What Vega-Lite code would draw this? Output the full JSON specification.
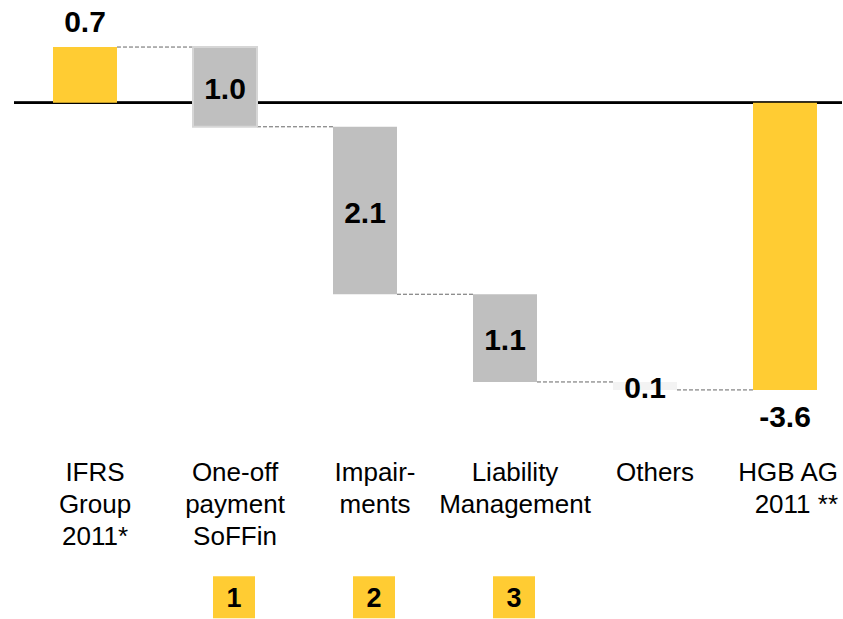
{
  "$schema": "https://vega.github.io/schema/vega-lite/v6.json",
  "width": 843,
  "height": 619,
  "autosize": {"type": "fit", "contains": "padding"},
  "padding": {"left": 13, "top": 0, "right": 0, "bottom": 0},
  "background": "white",
  "config": {
    "view": {"stroke": null},
    "text": {"font": "Liberation Sans", "color": "black"}
  },
  "data": {
    "values": [
      {"step": "IFRS", "name": "IFRS\nGroup\n2011*", "kind": "total", "start": 0, "end": 0.7, "label": "0.7", "next": "One-off", "marker": null},
      {"step": "One-off", "name": "One-off\npayment\nSoFFin", "kind": "change", "start": 0.7, "end": -0.3, "label": "1.0", "next": "Impairments", "marker": "1"},
      {"step": "Impairments", "name": "Impair-\nments", "kind": "change", "start": -0.3, "end": -2.4, "label": "2.1", "next": "Liability", "marker": "2"},
      {"step": "Liability", "name": "Liability\nManagement", "kind": "change", "start": -2.4, "end": -3.5, "label": "1.1", "next": "Others", "marker": "3"},
      {"step": "Others", "name": "Others", "kind": "change", "start": -3.5, "end": -3.6, "label": "0.1", "next": "HGB", "marker": null},
      {"step": "HGB", "name": "HGB AG\n2011 **", "kind": "total", "start": 0, "end": -3.6, "label": "-3.6", "next": null, "marker": null}
    ]
  },
  "layer": [
    {
      "mark": {"type": "rule", "color": "black", "strokeWidth": 2},
      "encoding": {
        "y": {"datum": 0, "type": "quantitative", "axis": null, "scale": {"domain": [-6.41, 1.29], "nice": false, "zero": false}}
      }
    },
    {
      "transform": [{"filter": "datum.next != null"}],
      "mark": {"type": "rule", "color": "#666666", "strokeWidth": 1, "strokeDash": [4, 2]},
      "encoding": {
        "x": {"field": "step", "type": "nominal", "bandPosition": 1, "axis": null,
              "scale": {"domain": ["IFRS", "One-off", "Impairments", "Liability", "Others", "HGB"], "range": [1, 841], "paddingInner": 0.543, "paddingOuter": 0.2715}},
        "x2": {"field": "next", "bandPosition": 0},
        "y": {"field": "end", "type": "quantitative", "axis": null, "scale": {"domain": [-6.41, 1.29], "nice": false, "zero": false}}
      }
    },
    {
      "mark": {"type": "bar", "strokeWidth": 2},
      "encoding": {
        "x": {"field": "step", "type": "nominal", "axis": null,
              "scale": {"domain": ["IFRS", "One-off", "Impairments", "Liability", "Others", "HGB"], "range": [1, 841], "paddingInner": 0.543, "paddingOuter": 0.2715}},
        "y": {"field": "start", "type": "quantitative", "axis": null, "scale": {"domain": [-6.41, 1.29], "nice": false, "zero": false}},
        "y2": {"field": "end"},
        "color": {
          "condition": [
            {"test": "datum.kind === 'total'", "value": "#FFCC33"},
            {"test": "datum.step === 'Others'", "value": "#F3F3F3"}
          ],
          "value": "#BFBFBF"
        },
        "stroke": {
          "condition": {"test": "datum.step === 'One-off'", "value": "#D6D6D6"},
          "value": null
        }
      }
    },
    {
      "transform": [
        {"filter": "datum.kind === 'change'"},
        {"calculate": "(datum.start + datum.end) / 2", "as": "mid"}
      ],
      "mark": {"type": "text", "fontSize": 30, "fontWeight": "bold", "baseline": "middle", "align": "center", "dy": 3},
      "encoding": {
        "x": {"field": "step", "type": "nominal", "axis": null,
              "scale": {"domain": ["IFRS", "One-off", "Impairments", "Liability", "Others", "HGB"], "range": [1, 841], "paddingInner": 0.543, "paddingOuter": 0.2715}},
        "y": {"field": "mid", "type": "quantitative", "axis": null, "scale": {"domain": [-6.41, 1.29], "nice": false, "zero": false}},
        "text": {"field": "label"}
      }
    },
    {
      "transform": [{"filter": "datum.step === 'IFRS'"}],
      "mark": {"type": "text", "fontSize": 30, "fontWeight": "bold", "baseline": "alphabetic", "align": "center", "dy": -15},
      "encoding": {
        "x": {"field": "step", "type": "nominal", "axis": null,
              "scale": {"domain": ["IFRS", "One-off", "Impairments", "Liability", "Others", "HGB"], "range": [1, 841], "paddingInner": 0.543, "paddingOuter": 0.2715}},
        "y": {"field": "end", "type": "quantitative", "axis": null, "scale": {"domain": [-6.41, 1.29], "nice": false, "zero": false}},
        "text": {"field": "label"}
      }
    },
    {
      "transform": [{"filter": "datum.step === 'HGB'"}],
      "mark": {"type": "text", "fontSize": 30, "fontWeight": "bold", "baseline": "alphabetic", "align": "center", "dy": 37},
      "encoding": {
        "x": {"field": "step", "type": "nominal", "axis": null,
              "scale": {"domain": ["IFRS", "One-off", "Impairments", "Liability", "Others", "HGB"], "range": [1, 841], "paddingInner": 0.543, "paddingOuter": 0.2715}},
        "y": {"field": "end", "type": "quantitative", "axis": null, "scale": {"domain": [-6.41, 1.29], "nice": false, "zero": false}},
        "text": {"field": "label"}
      }
    },
    {
      "transform": [{"filter": "datum.step !== 'HGB'"}],
      "mark": {"type": "text", "fontSize": 26, "baseline": "alphabetic", "align": "center", "dx": 10, "lineBreak": "\n", "lineHeight": 32},
      "encoding": {
        "x": {"field": "step", "type": "nominal", "axis": null,
              "scale": {"domain": ["IFRS", "One-off", "Impairments", "Liability", "Others", "HGB"], "range": [1, 841], "paddingInner": 0.543, "paddingOuter": 0.2715}},
        "y": {"datum": -4.74, "type": "quantitative", "axis": null, "scale": {"domain": [-6.41, 1.29], "nice": false, "zero": false}},
        "text": {"field": "name"}
      }
    },
    {
      "transform": [{"filter": "datum.step === 'HGB'"}],
      "mark": {"type": "text", "fontSize": 26, "baseline": "alphabetic", "align": "right", "dx": 53, "lineBreak": "\n", "lineHeight": 32},
      "encoding": {
        "x": {"field": "step", "type": "nominal", "axis": null,
              "scale": {"domain": ["IFRS", "One-off", "Impairments", "Liability", "Others", "HGB"], "range": [1, 841], "paddingInner": 0.543, "paddingOuter": 0.2715}},
        "y": {"datum": -4.74, "type": "quantitative", "axis": null, "scale": {"domain": [-6.41, 1.29], "nice": false, "zero": false}},
        "text": {"field": "name"}
      }
    },
    {
      "transform": [{"filter": "datum.marker != null"}],
      "mark": {"type": "square", "size": 1764, "color": "#FFCC33", "opacity": 1, "filled": true, "xOffset": 9},
      "encoding": {
        "x": {"field": "step", "type": "nominal", "axis": null,
              "scale": {"domain": ["IFRS", "One-off", "Impairments", "Liability", "Others", "HGB"], "range": [1, 841], "paddingInner": 0.543, "paddingOuter": 0.2715}},
        "y": {"datum": -6.2, "type": "quantitative", "axis": null, "scale": {"domain": [-6.41, 1.29], "nice": false, "zero": false}}
      }
    },
    {
      "transform": [{"filter": "datum.marker != null"}],
      "mark": {"type": "text", "fontSize": 27, "fontWeight": "bold", "baseline": "middle", "align": "center", "dx": 9, "dy": 2},
      "encoding": {
        "x": {"field": "step", "type": "nominal", "axis": null,
              "scale": {"domain": ["IFRS", "One-off", "Impairments", "Liability", "Others", "HGB"], "range": [1, 841], "paddingInner": 0.543, "paddingOuter": 0.2715}},
        "y": {"datum": -6.2, "type": "quantitative", "axis": null, "scale": {"domain": [-6.41, 1.29], "nice": false, "zero": false}},
        "text": {"field": "marker"}
      }
    }
  ]
}
